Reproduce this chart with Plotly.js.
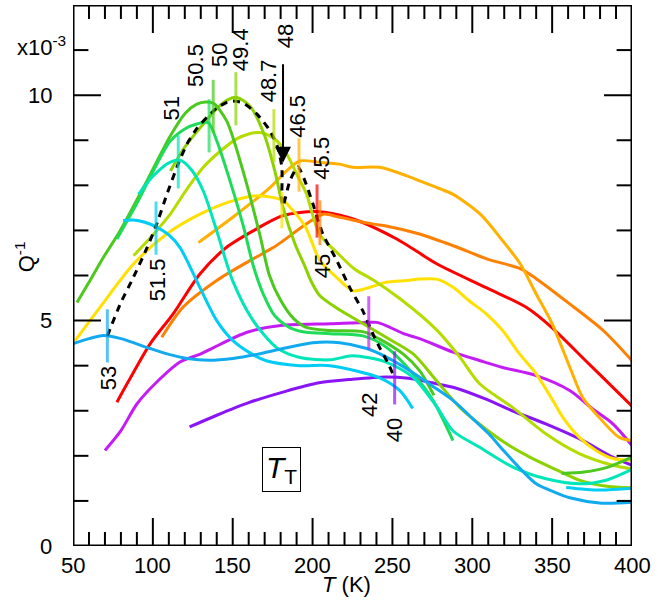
<!DOCTYPE html>
<html>
<head>
<meta charset="utf-8">
<script src="https://cdn.plot.ly/plotly-3.0.1.min.js"></script>
<style>html,body{margin:0;padding:0;background:#fff;}#chart{width:658px;height:600px;}</style>
</head>
<body>
<div id="chart"></div>
<script>
// ---- data (T in K, Q^-1 in units of 1e-3) ----
const seriesNames = ["40","42","45.5","45","46.5","48","48.7","49.4","50","50.5","51","51.5","53"];
const T40 = [123,140,160,182,204,225,246,260,275,290,309,325,346,367,388,400];
const Q40 = [2.64,2.9,3.18,3.42,3.62,3.7,3.75,3.72,3.62,3.5,3.25,3.0,2.71,2.38,1.97,1.79];
const T42 = [70,80,90,102,117,130,138,159,180,211,234,240,246,257,267,288,305,319,340,361,375,388,400];
const Q42 = [2.12,2.56,3.15,3.62,4.08,4.26,4.4,4.74,4.89,4.93,4.96,4.96,4.89,4.71,4.6,4.3,4.11,3.96,3.78,3.45,3.05,2.71,2.23];
const T455 = [77.5,85,98.4,112.7,129.6,146,162.8,181.6,202.6,225,252.7,277.7,308.7,334,350,371,392,400];
const Q455 = [3.19,3.67,4.49,5.15,6.04,6.62,6.99,7.33,7.42,7.26,6.81,6.26,5.73,5.29,4.84,4.11,3.38,3.1];
const T45 = [105.6,119,140,160.8,175.4,181.6,196,206.6,217,238,246,267,288,309,330,340,361,382,400];
const Q45 = [4.63,5.3,5.89,6.33,6.62,6.77,7.14,7.36,7.29,7.14,7.1,6.92,6.66,6.37,6.15,5.93,5.37,4.78,4.11];
const T465 = [128.5,152.5,173.3,183.7,192,204.6,217,225,242,259,267,280,288,305,319,330,340,350,361,369,377.5,392,400];
const Q465 = [6.73,7.36,7.95,8.32,8.54,8.51,8.47,8.4,8.4,8.21,8.1,7.92,7.8,7.36,6.77,6.26,5.59,4.93,3.97,3.3,2.93,2.41,2.34];
const T48 = [51.4,67,88,108.7,129.5,150.4,167,181.6,186,190,196,200,204.6,215,225.4,236,246,259,267,277.5,288,298,308.7,319,329.6,340,350.4,356.6,367,377.5,388,400];
const Q48 = [4.56,5.3,6.26,6.92,7.36,7.66,7.77,7.66,7.51,7.35,7.05,6.7,6.33,5.96,5.66,5.74,5.85,5.89,5.92,5.92,5.74,5.44,5.15,4.78,4.26,3.82,3.23,2.86,2.41,2.12,1.94,1.9];
const T487 = [87.9,100,110.9,121,131.6,142,152.5,160,167.1,172,177.5,182,186,190,196.2,200,204.6,217,226,238,256,277.5,292,304.6,325,346,367,388,400];
const Q487 = [6.44,6.9,7.36,7.9,8.4,8.75,9.03,9.14,9.17,9.12,8.99,8.8,8.55,8.25,7.81,7.35,6.9,6.45,6.15,5.9,5.45,4.8,4.2,3.6,3.08,2.49,2.05,1.79,1.71];
const T494 = [111,120,131.6,140,146,152.5,161,170,176.5,181.6,189,195,199.4,204.6,215,225,246,263,277.5,292,304.6,320,336,352,367,383,400];
const Q494 = [8.32,8.85,9.36,9.7,9.88,9.95,9.75,9.1,8.3,7.5,6.7,6.22,5.85,5.55,5.28,5.07,4.63,4.26,3.67,3.08,2.7,2.3,1.97,1.7,1.46,1.33,1.29];
const T50 = [52.5,60,69,79.6,96.3,111,120.3,127.5,133,137.9,146.2,156.6,167,173,180,188,196,211,232,242,256.6,267,276,null,356,370,385,400];
const Q50 = [5.4,5.85,6.4,7.0,8.1,9.1,9.6,9.8,9.85,9.82,9.43,8.3,6.9,6.0,5.45,5.05,4.85,4.78,4.75,4.59,4.26,3.89,3.34,null,1.61,1.64,1.75,1.97];
const T505 = [77.5,90,100,110.9,120,127.5,134.6,140,148.3,156.6,163,169,176.5,186,196,211,231.6,246.2,262.9,275.4,287.9];
const Q505 = [6.81,7.6,8.3,8.98,9.25,9.36,9.39,8.99,8.1,7.1,6.2,5.6,5.1,4.84,4.74,4.71,4.66,4.41,3.82,3.23,2.34];
const T51 = [91,100,110,117,124,131.5,140,150,162.8,177.5,192,211,225,246,263,277.5,288,304.6,325.4,346.2,367.2,383.8,400];
const Q51 = [7.8,8.2,8.5,8.56,8.35,7.88,6.99,5.88,5.0,4.4,4.18,4.13,4.22,4.08,3.74,3.1,2.55,2.19,1.75,1.49,1.38,1.46,1.7];
const T515 = [81.4,87.7,95,102,110,117,129.5,140,150,160,171,192,211,242,254.5,262.7,null,358.8,379.5,400];
const Q515 = [7.22,7.23,7.18,7.08,6.9,6.62,5.73,5.0,4.56,4.3,4.11,4.0,4.0,3.73,3.45,3.05,null,1.30,1.24,1.28];
const T53 = [50.2,60,69,80,98.3,110,121.4,135,150.2,165,181.4,200.2,217,234,246.2,262.7,275,287.9,298,310,320,331,340,351,361,381,400];
const Q53 = [4.49,4.6,4.67,4.6,4.38,4.25,4.16,4.12,4.16,4.25,4.38,4.51,4.51,4.38,4.19,3.85,3.55,3.23,2.9,2.5,2.1,1.68,1.38,1.2,1.07,0.95,0.97];

// transition markers (T_T) on each curve
const markT = [251.4,235.2,202.8,204.6,191.5,180.8,175.8,152,137.8,135.2,115.9,102,71.5];
const markQ = [3.73,4.95,7.43,7.17,8.45,7.45,9.1,9.92,9.75,9.32,8.52,7.05,4.66];

// dashed guide connecting the markers
const dashT = [71.5,79.6,87.7,96.4,102,108.9,115.8,121.4,127.7,135.8,140.2,148.3,156.4,165.2,173.3,178.3,180.8,180.8,181.5,185.8,190.8,195.2,200.2,206.4,215.2,223.3,231.4,237.7,242,247,251.4];
const dashQ = [4.66,5.37,5.95,6.62,7.1,7.81,8.47,8.92,9.27,9.58,9.72,9.87,9.83,9.58,9.21,8.83,8.39,7.72,7.54,8.1,8.41,8.1,7.59,6.92,6.33,5.73,5.22,4.71,4.4,4.07,3.73];

// axis ranges and ticks
const xRange = [50,400];
const yRange = [0,12];
const xMajor = [50,100,150,200,250,300,350,400];
const xMinor = [60,70,80,90,110,120,130,140,160,170,180,190,210,220,230,240,260,270,280,290,310,320,330,340,360,370,380,390];
const yMajor = [0,5,10];
const yMinor = [1,2,3,4,6,7,8,9,11];

// ---- styles ----
const colors = ["#8a14f5","#c51cf5","#ff0000","#ff8000","#ffb000","#ffe000","#b4dc00","#8cd200","#4cc81e","#1edc5a","#00e6b9","#00ccf4","#12aaee"];
const seriesT = [T40,T42,T455,T45,T465,T48,T487,T494,T50,T505,T51,T515,T53];
const seriesQ = [Q40,Q42,Q455,Q45,Q465,Q48,Q487,Q494,Q50,Q505,Q51,Q515,Q53];
const markSize = [38,38,38,32,38,26,38,38,38,38,38,38,38];
const FONT = 'Liberation Sans, Arial, sans-serif';
const W = 559, H = 541;          // plot area in px
const MAJ = 20, MINX = 10, MINY = 11;

const traces = [];
seriesT.forEach((t,i)=>{
  traces.push({type:'scatter',mode:'lines',x:t,y:seriesQ[i],name:seriesNames[i],
    line:{color:colors[i],width:3,shape:'spline',smoothing:0.8},connectgaps:false});
});
traces.push({type:'scatter',mode:'lines',x:dashT,y:dashQ,line:{color:'#000',width:3,dash:'7px,6px',shape:'spline',smoothing:0.6}});
traces.push({type:'scatter',mode:'markers',x:markT,y:markQ,
  marker:{symbol:'line-ns-open',size:markSize,color:colors,line:{color:colors,width:3}}});

// inside ticks on all four sides: line markers centred on the axis, clipped to the plot area
function tickTrace(xs, ys, symbol, len){
  return {type:'scatter',mode:'markers',x:xs,y:ys,cliponaxis:true,hoverinfo:'skip',
    marker:{symbol:symbol,size:2*len,color:'#000',line:{color:'#000',width:2}}};
}
const bothX = v => [v, v];
traces.push(tickTrace(xMajor.concat(xMajor), xMajor.map(()=>yRange[0]).concat(xMajor.map(()=>yRange[1])), 'line-ns', MAJ));
traces.push(tickTrace(xMinor.concat(xMinor), xMinor.map(()=>yRange[0]).concat(xMinor.map(()=>yRange[1])), 'line-ns', MINX));
traces.push(tickTrace(yMajor.map(()=>xRange[0]).concat(yMajor.map(()=>xRange[1])), yMajor.concat(yMajor), 'line-ew', MAJ));
traces.push(tickTrace(yMinor.map(()=>xRange[0]).concat(yMinor.map(()=>xRange[1])), yMinor.concat(yMinor), 'line-ew', MINY));
// frame
traces.push({type:'scatter',mode:'lines',cliponaxis:false,hoverinfo:'skip',
  x:[xRange[0],xRange[1],xRange[1],xRange[0],xRange[0]],y:[yRange[0],yRange[0],yRange[1],yRange[1],yRange[0]],
  line:{color:'#000',width:3}});

const labelPos = [[251.4,2.56],[235.8,3.12],[205.8,8.61],[206.4,6.2],[190.8,9.54],[182.8,11.31],[172.2,10.31],[154.6,11.0],[141.4,10.89],[127,10.67],[111.9,9.7],[103.1,5.91],[71.9,3.72]];
const annotations = labelPos.map((p,i)=>({x:p[0],y:p[1],xref:'x',yref:'y',text:seriesNames[i],showarrow:false,textangle:-90,
  font:{family:FONT,size:22,color:'#000'},xanchor:'center',yanchor:'middle'}));
annotations.push({x:181.5,y:8.5,ax:181.5,ay:10.72,xref:'x',yref:'y',axref:'x',ayref:'y',text:'',showarrow:true,arrowhead:2,arrowsize:1.6,arrowwidth:2,arrowcolor:'#000'});
annotations.push({xref:'paper',yref:'paper',x:(346-73)/W,y:-(584-545.7)/H,text:'<i>T</i> (K)',showarrow:false,font:{family:FONT,size:22,color:'#000'},xanchor:'center',yanchor:'middle'});
annotations.push({xref:'paper',yref:'paper',x:(25-73)/W,y:(545.7-257)/H,text:'Q<sup>-1</sup>',showarrow:false,textangle:-90,font:{family:FONT,size:22,color:'#000'},xanchor:'center',yanchor:'middle'});
annotations.push({xref:'paper',yref:'y',x:(15-73)/W,y:11.1,text:'x10<sup>-3</sup>',showarrow:false,font:{family:FONT,size:22,color:'#000'},xanchor:'left',yanchor:'middle'});
annotations.push({xref:'x',yref:'y',x:180.7,y:1.69,text:'<i>T</i><sub>T</sub>',showarrow:false,font:{family:FONT,size:30,color:'#000'},bordercolor:'#000',borderwidth:1,borderpad:3,xanchor:'center',yanchor:'middle'});
// tick labels on the axis scale
xMajor.forEach(v=>annotations.push({xref:'x',yref:'paper',x:v,y:-19.5/H,text:String(v),showarrow:false,
  font:{family:FONT,size:22,color:'#000'},xanchor:'center',yanchor:'middle'}));
yMajor.forEach(v=>annotations.push({xref:'paper',yref:'y',x:-19/W,y:v,text:String(v),showarrow:false,
  font:{family:FONT,size:22,color:'#000'},xanchor:'right',yanchor:'middle'}));

const hiddenAxis = {showline:false,ticks:'',showticklabels:false,showgrid:false,zeroline:false};
const layout = {
  width:658,height:600,margin:{l:73,r:26,t:5,b:54},paper_bgcolor:'#fff',plot_bgcolor:'#fff',showlegend:false,
  xaxis:Object.assign({},hiddenAxis,{range:xRange}),
  yaxis:Object.assign({},hiddenAxis,{range:yRange}),
  annotations:annotations
};
Plotly.newPlot('chart',traces,layout,{displayModeBar:false});
</script>
</body>
</html>
